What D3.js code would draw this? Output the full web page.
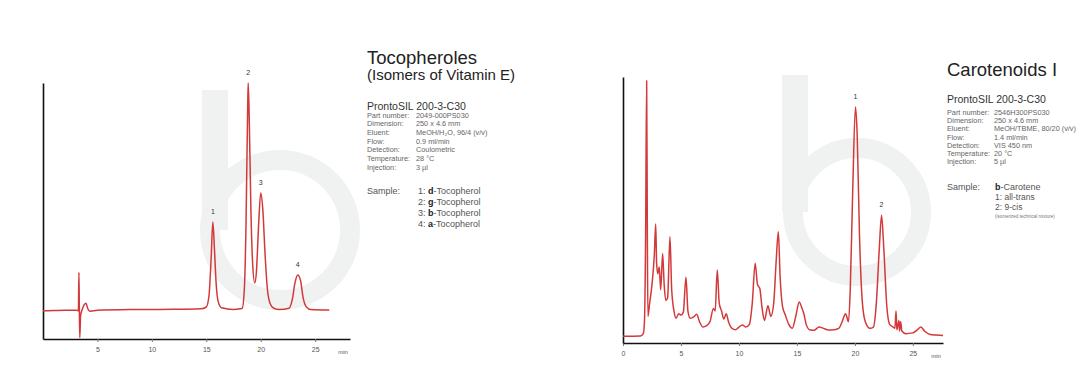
<html>
<head>
    <script src="https://d3js.org/d3.v7.min.js"></script>
    <style>
        html, body {
            margin: 0px;
            padding: 0px;
            background-color: white;
        }
        text {
            font-family: "Liberation Sans", Arial, sans-serif;
        }
    </style>
</head>
<body>
<svg id="chart" width="1085" height="386"></svg>
<script>
// ---- Tocopheroles chromatogram (time in min, detector signal in % of full scale)
const tocoTime = [0, 1, 2, 3.1, 3.25, 3.3, 3.34, 3.38, 3.45, 3.6, 3.8, 3.95, 4.1, 4.3, 4.6,
    5, 8, 12, 14.5, 15.0, 15.25, 15.45, 15.6, 15.75, 15.9, 16.1, 16.4, 17.5, 18.1,
    18.3, 18.5, 18.65, 18.8, 18.85, 18.95, 19.1, 19.25, 19.45, 19.6, 19.8, 20.0, 20.2,
    20.4, 20.6, 20.85, 21.2, 21.7, 22.6, 22.9, 23.15, 23.4, 23.65, 23.9, 24.2, 24.6, 26.3];
const tocoSignal = [11.0, 11.1, 11.2, 11.2, 11.0, 26, 11, 0.5, 9, 11.5, 13.5, 14, 12, 10.8, 11.0,
    11.2, 11.5, 11.6, 11.8, 12.5, 17, 32, 45.7, 35, 22, 14.5, 12.2, 11.5, 11.8,
    12, 20, 45, 90, 100, 85, 50, 30, 21.9, 26, 44, 57, 50,
    33, 20, 14, 12, 11.5, 12, 15.5, 22, 25, 23, 16, 12.5, 11.5, 11.3];
const tocoPeakTimes = [15.6, 18.85, 20.0, 23.4];
const tocoPeakLabels = ["1", "2", "3", "4"];
const tocoTicks = [5, 10, 15, 20, 25];

// ---- Carotenoids I chromatogram
const caroTime = [0, 1.5, 1.75, 1.85, 1.95, 2.04, 2.1, 2.15, 2.3, 2.5, 2.7, 2.82, 2.9, 3.0,
    3.13, 3.25, 3.42, 3.55, 3.7, 3.85, 4.05, 4.2, 4.4, 4.57, 4.8, 5.0, 5.2, 5.43, 5.6,
    5.8, 6.1, 6.35, 6.6, 6.9, 7.2, 7.5, 7.8, 7.95, 8.13, 8.3, 8.5, 8.7, 8.9, 9.1, 9.4,
    9.7, 10.0, 10.3, 10.6, 10.9, 11.15, 11.4, 11.6, 11.8, 12.0, 12.2, 12.5, 12.75, 13.0,
    13.2, 13.4, 13.55, 13.75, 14.0, 14.3, 14.6, 14.9, 15.2, 15.4, 15.6, 15.8, 16.1, 16.5,
    16.9, 17.3, 17.7, 18.2, 18.6, 18.9, 19.2, 19.45, 19.6, 19.8, 20.05, 20.2, 20.4, 20.65,
    20.9, 21.3, 21.6, 21.85, 22.1, 22.3, 22.5, 22.75, 23.0, 23.3, 23.45, 23.55, 23.62,
    23.8, 23.85, 23.95, 24.05, 24.4, 25.0, 25.4, 25.7, 26.0, 26.5, 27.0, 27.6];
const caroSignal = [2.5, 2.6, 3.5, 8, 40, 98.6, 40, 10, 15, 22, 33, 44.7, 30, 26,
    28.6, 20, 33.6, 22, 16, 17, 39.9, 20, 12, 9.3, 11, 10.5, 11.5, 24.7, 12,
    9.3, 9.8, 10.8, 8, 6.0, 6.5, 8, 13, 12, 27.4, 15, 12, 9, 11, 8, 5.5,
    5, 6, 6.8, 6, 7, 15, 30, 22, 20.5, 13, 8.5, 14, 10, 15,
    30, 41.8, 25, 14, 10.5, 7, 5.5, 10, 15.4, 13.5, 11, 7, 5, 4.8,
    6, 5.5, 4.9, 5, 5.5, 8, 11, 8, 20, 55, 88.8, 78, 40, 15,
    8, 5.5, 6, 15, 35, 48, 35, 14, 7, 6, 5.5, 12, 5,
    8.5, 4.5, 8, 4.5, 3.5, 3.8, 5, 6, 4.5, 3.2, 3, 2.8];
const caroPeakTimes = [20.05, 22.3];
const caroPeakLabels = ["1", "2"];
const caroTicks = [0, 5, 10, 15, 20, 25];

// ---- method texts
const tocoTitle = ["Tocopheroles", "(Isomers of Vitamin E)"];
const caroTitle = ["Carotenoids I"];
const columnName = "ProntoSIL 200-3-C30";
const infoLabels = ["Part number:", "Dimension:", "Eluent:", "Flow:", "Detection:", "Temperature:", "Injection:"];
const tocoInfo = ["2049-000PS030", "250 x 4.6 mm", "MeOH/H\u2082O, 96/4 (v/v)", "0.9 ml/min", "Coulometric", "28 \u00b0C", "3 \u00b5l"];
const caroInfo = ["2546H300PS030", "250 x 4.6 mm", "MeOH/TBME, 80/20 (v/v)", "1.4 ml/min", "VIS 450 nm", "20 \u00b0C", "5 \u00b5l"];
const tocoSampleNums = ["1:", "2:", "3:", "4:"];
const tocoSampleGreek = ["d", "g", "b", "a"];
const caroSample = ["1: all-trans", "2: 9-cis"];

const svg = d3.select("#chart");
const red = "#d3393b";
const logoColor = "#f0f2f2";

// faint company logo behind each chart
function drawLogo(stemX, stemTop, cx, cy, r) {
    const g = svg.append("g");
    g.append("rect")
        .attr("x", stemX).attr("y", stemTop)
        .attr("width", 26).attr("height", cy - stemTop)
        .attr("fill", logoColor);
    g.append("circle")
        .attr("cx", cx).attr("cy", cy).attr("r", r - 10)
        .attr("fill", "none")
        .attr("stroke", logoColor)
        .attr("stroke-width", 20);
}
drawLogo(202, 90, 280, 230, 80);
drawLogo(782, 75, 857, 212, 74);

function drawChromatogram(opt) {
    const x = d3.scaleLinear().domain([0, opt.xMax]).range([opt.left, opt.right]);
    const y = d3.scaleLinear().domain([0, 100]).range([opt.bottom, opt.top]);
    const g = svg.append("g");

    // x axis
    const xa = g.append("g")
        .attr("transform", "translate(0," + opt.bottom + ")")
        .call(d3.axisBottom(x).tickValues(opt.ticks).tickSize(3).tickSizeOuter(0).tickPadding(5));
    xa.select(".domain").attr("stroke", "#111").attr("stroke-width", 1.6);
    xa.selectAll(".tick line").attr("stroke", "#777");
    xa.selectAll(".tick text").attr("fill", "#555").attr("font-size", 7)
        .attr("font-family", "Liberation Sans, Arial, sans-serif");
    g.append("text")
        .attr("x", x(opt.xMax) - 7)
        .attr("y", opt.bottom + 15)
        .attr("text-anchor", "middle")
        .attr("font-size", 6)
        .attr("fill", "#555")
        .text("min");

    // y axis (no ticks, just the line)
    const ya = g.append("g")
        .attr("transform", "translate(" + opt.left + ",0)")
        .call(d3.axisLeft(y).tickValues([]).tickSizeOuter(0));
    ya.select(".domain").attr("stroke", "#111").attr("stroke-width", 1.6);

    const data = opt.time.map((t, i) => ({ t: t, v: opt.signal[i] }));
    g.append("path")
        .datum(data)
        .attr("fill", "none")
        .attr("stroke", red)
        .attr("stroke-width", 1.5)
        .attr("stroke-linejoin", "round")
        .attr("d", d3.line()
            .x(d => x(d.t))
            .y(d => y(d.v))
            .curve(d3.curveMonotoneX));

    // peak numbers
    g.selectAll(".peak")
        .data(opt.peakTimes)
        .enter()
        .append("text")
        .attr("x", t => x(t))
        .attr("y", t => y(opt.signal[opt.time.indexOf(t)]) - 8)
        .attr("text-anchor", "middle")
        .attr("font-size", 7)
        .attr("fill", "#333")
        .text((t, i) => opt.peakLabels[i]);
}

drawChromatogram({
    time: tocoTime, signal: tocoSignal, peakTimes: tocoPeakTimes, peakLabels: tocoPeakLabels,
    ticks: tocoTicks, xMax: 28.2, left: 43, right: 350, top: 83, bottom: 339
});
drawChromatogram({
    time: caroTime, signal: caroSignal, peakTimes: caroPeakTimes, peakLabels: caroPeakLabels,
    ticks: caroTicks, xMax: 27.6, left: 623, right: 943, top: 77, bottom: 343
});

// method description blocks
function drawInfo(x0, titles, titleY, colY, infoY, values, valX, step, sampleY) {
    const g = svg.append("g");
    g.append("text").attr("x", x0).attr("y", titleY)
        .attr("font-size", 18.5).attr("fill", "#222").text(titles[0]);
    if (titles[1]) {
        g.append("text").attr("x", x0).attr("y", titleY + 16)
            .attr("font-size", 15).attr("fill", "#222").text(titles[1]);
    }
    g.append("text").attr("x", x0).attr("y", colY)
        .attr("font-size", 10.5).attr("fill", "#333").text(columnName);
    infoLabels.forEach((lab, i) => {
        g.append("text").attr("x", x0).attr("y", infoY + i * step)
            .attr("font-size", 7.3).attr("fill", "#666").text(lab);
        g.append("text").attr("x", valX).attr("y", infoY + i * step)
            .attr("font-size", 7.3).attr("fill", "#666").text(values[i]);
    });
    g.append("text").attr("x", x0).attr("y", sampleY)
        .attr("font-size", 9).attr("fill", "#555").text("Sample:");
    return g;
}

const tg = drawInfo(367, tocoTitle, 64, 110, 117.5, tocoInfo, 416, 8.7, 194);
tocoSampleNums.forEach((n, i) => {
    const t = tg.append("text").attr("x", 418).attr("y", 194 + i * 11)
        .attr("font-size", 9).attr("fill", "#555");
    t.append("tspan").text(n + " ");
    t.append("tspan").attr("font-weight", "bold").attr("fill", "#222").text(tocoSampleGreek[i]);
    t.append("tspan").text("-Tocopherol");
});

const cg = drawInfo(947, caroTitle, 76, 103, 115, caroInfo, 994, 8.2, 190);
const ct = cg.append("text").attr("x", 995).attr("y", 190)
    .attr("font-size", 9).attr("fill", "#555");
ct.append("tspan").attr("font-weight", "bold").attr("fill", "#222").text("b");
ct.append("tspan").text("-Carotene");
caroSample.forEach((s, i) => {
    cg.append("text").attr("x", 995).attr("y", 200 + i * 10)
        .attr("font-size", 8.5).attr("fill", "#555").text(s);
});
cg.append("text").attr("x", 995).attr("y", 218)
    .attr("font-size", 4.5).attr("fill", "#777").text("(isomerized technical mixture)");
</script>
</body>
</html>
